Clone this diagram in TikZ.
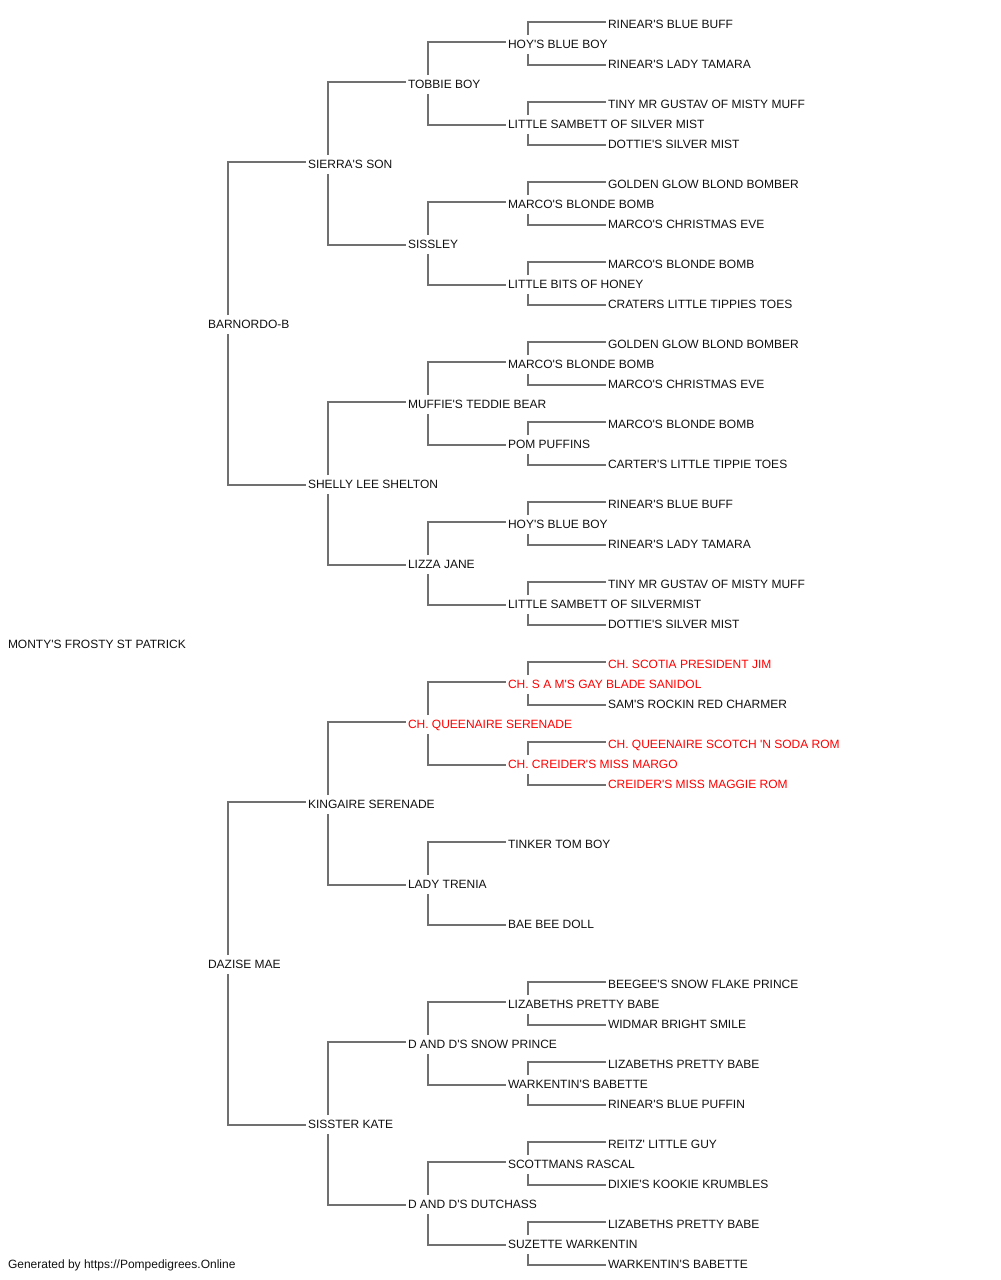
\documentclass[tikz,border=0pt]{standalone}
\usepackage{fontspec}
\newfontfamily\pf{Liberation Sans}
\definecolor{conncol}{RGB}{112,112,112}
\definecolor{redname}{RGB}{255,0,0}
\definecolor{txt}{RGB}{17,17,17}
\begin{document}
\begin{tikzpicture}[x=0.75pt,y=-0.75pt,
  lbl/.style={anchor=west,inner sep=0pt,outer sep=0pt,text height=6.45pt,text depth=0pt,
    font=\pf\fontsize{9}{10}\selectfont,text=txt},
  champ/.style={lbl,text=redname},
  conn/.style={draw=conncol,line width=1pt}]
\useasboundingbox (0,0) rectangle (1000,1280);
% root
\node[lbl] (n1) at (8,644) {MONTY'S FROSTY ST PATRICK};
% generation 1
\node[lbl] (n2) at (208,324) {BARNORDO-B};
\node[lbl] (n3) at (208,964) {DAZISE MAE};
% generation 2
\node[lbl] (n4) at (308,164) {SIERRA'S SON};
\node[lbl] (n5) at (308,484) {SHELLY LEE SHELTON};
\node[lbl] (n6) at (308,804) {KINGAIRE SERENADE};
\node[lbl] (n7) at (308,1124) {SISSTER KATE};
% generation 3
\node[lbl] (n8) at (408,84) {TOBBIE BOY};
\node[lbl] (n9) at (408,244) {SISSLEY};
\node[lbl] (n10) at (408,404) {MUFFIE'S TEDDIE BEAR};
\node[lbl] (n11) at (408,564) {LIZZA JANE};
\node[champ] (n12) at (408,724) {CH. QUEENAIRE SERENADE};
\node[lbl] (n13) at (408,884) {LADY TRENIA};
\node[lbl] (n14) at (408,1044) {D AND D'S SNOW PRINCE};
\node[lbl] (n15) at (408,1204) {D AND D'S DUTCHASS};
% generation 4
\node[lbl] (n16) at (508,44) {HOY'S BLUE BOY};
\node[lbl] (n17) at (508,124) {LITTLE SAMBETT OF SILVER MIST};
\node[lbl] (n18) at (508,204) {MARCO'S BLONDE BOMB};
\node[lbl] (n19) at (508,284) {LITTLE BITS OF HONEY};
\node[lbl] (n20) at (508,364) {MARCO'S BLONDE BOMB};
\node[lbl] (n21) at (508,444) {POM PUFFINS};
\node[lbl] (n22) at (508,524) {HOY'S BLUE BOY};
\node[lbl] (n23) at (508,604) {LITTLE SAMBETT OF SILVERMIST};
\node[champ] (n24) at (508,684) {CH. S A M'S GAY BLADE SANIDOL};
\node[champ] (n25) at (508,764) {CH. CREIDER'S MISS MARGO};
\node[lbl] (n26) at (508,844) {TINKER TOM BOY};
\node[lbl] (n27) at (508,924) {BAE BEE DOLL};
\node[lbl] (n28) at (508,1004) {LIZABETHS PRETTY BABE};
\node[lbl] (n29) at (508,1084) {WARKENTIN'S BABETTE};
\node[lbl] (n30) at (508,1164) {SCOTTMANS RASCAL};
\node[lbl] (n31) at (508,1244) {SUZETTE WARKENTIN};
% generation 5
\node[lbl] (n32) at (608,24) {RINEAR'S BLUE BUFF};
\node[lbl] (n33) at (608,64) {RINEAR'S LADY TAMARA};
\node[lbl] (n34) at (608,104) {TINY MR GUSTAV OF MISTY MUFF};
\node[lbl] (n35) at (608,144) {DOTTIE'S SILVER MIST};
\node[lbl] (n36) at (608,184) {GOLDEN GLOW BLOND BOMBER};
\node[lbl] (n37) at (608,224) {MARCO'S CHRISTMAS EVE};
\node[lbl] (n38) at (608,264) {MARCO'S BLONDE BOMB};
\node[lbl] (n39) at (608,304) {CRATERS LITTLE TIPPIES TOES};
\node[lbl] (n40) at (608,344) {GOLDEN GLOW BLOND BOMBER};
\node[lbl] (n41) at (608,384) {MARCO'S CHRISTMAS EVE};
\node[lbl] (n42) at (608,424) {MARCO'S BLONDE BOMB};
\node[lbl] (n43) at (608,464) {CARTER'S LITTLE TIPPIE TOES};
\node[lbl] (n44) at (608,504) {RINEAR'S BLUE BUFF};
\node[lbl] (n45) at (608,544) {RINEAR'S LADY TAMARA};
\node[lbl] (n46) at (608,584) {TINY MR GUSTAV OF MISTY MUFF};
\node[lbl] (n47) at (608,624) {DOTTIE'S SILVER MIST};
\node[champ] (n48) at (608,664) {CH. SCOTIA PRESIDENT JIM};
\node[lbl] (n49) at (608,704) {SAM'S ROCKIN RED CHARMER};
\node[champ] (n50) at (608,744) {CH. QUEENAIRE SCOTCH 'N SODA ROM};
\node[champ] (n51) at (608,784) {CREIDER'S MISS MAGGIE ROM};
\node[lbl] (n56) at (608,984) {BEEGEE'S SNOW FLAKE PRINCE};
\node[lbl] (n57) at (608,1024) {WIDMAR BRIGHT SMILE};
\node[lbl] (n58) at (608,1064) {LIZABETHS PRETTY BABE};
\node[lbl] (n59) at (608,1104) {RINEAR'S BLUE PUFFIN};
\node[lbl] (n60) at (608,1144) {REITZ' LITTLE GUY};
\node[lbl] (n61) at (608,1184) {DIXIE'S KOOKIE KRUMBLES};
\node[lbl] (n62) at (608,1224) {LIZABETHS PRETTY BABE};
\node[lbl] (n63) at (608,1264) {WARKENTIN'S BABETTE};
% footer
\node[lbl] (foot) at (8,1264) {Generated by https://Pompedigrees.Online};
% connectors: child i to parents 2i (sire) and 2i+1 (dam)
\foreach \i in {2,...,25,28,29,30,31}{
  \pgfmathtruncatemacro{\a}{2*\i}
  \pgfmathtruncatemacro{\b}{2*\i+1}
  \draw[conn] ([shift={(20,-9)}]n\i.west) |- ([shift={(-2,-2)}]n\a.west);
  \draw[conn] ([shift={(20,10)}]n\i.west) |- ([shift={(-2,1)}]n\b.west);
}
\end{tikzpicture}
\end{document}
